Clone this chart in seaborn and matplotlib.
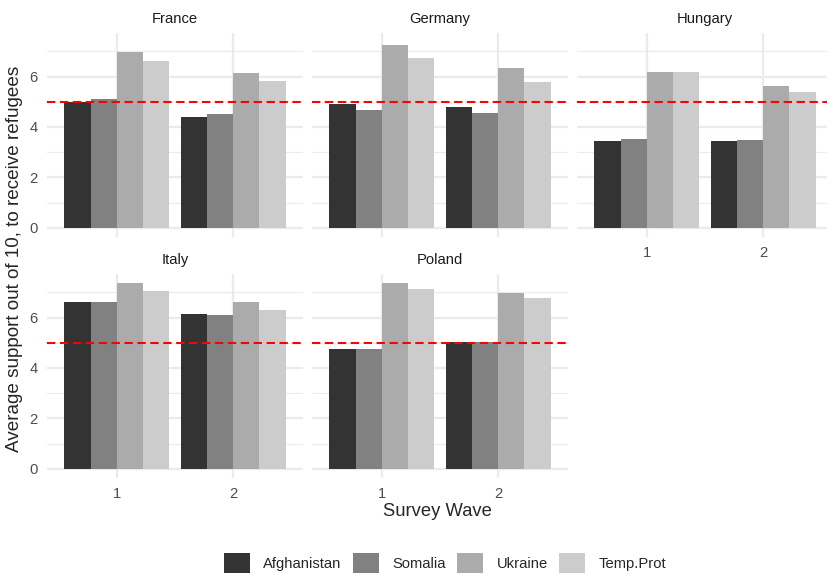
import numpy as np
import pandas as pd
import matplotlib
matplotlib.use("Agg")
import matplotlib.pyplot as plt
from matplotlib.patches import Patch
import seaborn as sns

# 数据：各国两轮调查的平均支持度（满分10）
countries = ["France", "Germany", "Hungary", "Italy", "Poland"]
origins = ["Afghanistan", "Somalia", "Ukraine", "Temp.Prot"]
waves = ["1", "2"]

france = [[4.97, 5.10, 6.99, 6.62], [4.41, 4.50, 6.15, 5.83]]
germany = [[4.91, 4.68, 7.27, 6.73], [4.78, 4.56, 6.35, 5.78]]
hungary = [[3.46, 3.51, 6.20, 6.19], [3.43, 3.47, 5.63, 5.38]]
italy = [[6.61, 6.61, 7.36, 7.05], [6.13, 6.10, 6.61, 6.30]]
poland = [[4.74, 4.74, 7.36, 7.12], [5.02, 5.02, 6.99, 6.78]]

threshold = 5
palette = ["#333333", "#818181", "#ABABAB", "#CCCCCC"]

rows = []
for c, vals in zip(countries, [france, germany, hungary, italy, poland]):
    for w, wv in zip(waves, vals):
        for o, v in zip(origins, wv):
            rows.append({"country": c, "wave": w, "origin": o, "support": v})
df = pd.DataFrame(rows)

sns.set_theme(style="white")
plt.rcParams['font.family'] = ['Liberation Sans', 'DejaVu Sans']

W, H = 828, 575
fig = plt.figure(figsize=(W / 100, H / 100), dpi=100)

# 面板像素位置 (left, top, width, height)
lefts = [47, 312, 577]
tops = [33, 274]
pw, ph = 256, 204
ymax = df["support"].max() * 1.05
ylo = -df["support"].max() * 0.05

for i, c in enumerate(countries):
    r, col = divmod(i, 3)
    l, t = lefts[col], tops[r]
    ax = fig.add_axes([l / W, 1 - (t + ph) / H, pw / W, ph / H])
    sub = df[df["country"] == c]
    sns.barplot(data=sub, x="wave", y="support", hue="origin", hue_order=origins,
                palette=palette, width=0.9, gap=0, errorbar=None, ax=ax,
                legend=False, saturation=1, linewidth=0)
    ax.axhline(threshold, color="red", lw=1.5, ls=(0, (4, 2.2)), zorder=5)
    ax.set_xlim(-0.6, 1.6)
    ax.set_ylim(ylo, ymax)
    ax.set_yticks([0, 2, 4, 6])
    ax.set_yticks([1, 3, 5, 7], minor=True)
    ax.set_axisbelow(True)
    ax.grid(which="major", color="#EBEBEB", lw=1.6)
    ax.grid(which="minor", axis="y", color="#EBEBEB", lw=0.8)
    for s in ax.spines.values():
        s.set_visible(False)
    ax.tick_params(which="both", length=0, pad=6.5, labelsize=10.6, labelcolor="#4D4D4D")
    ax.set_xlabel("")
    ax.set_ylabel("")
    ax.set_title(c, fontsize=10.6, color="#1A1A1A", pad=7.5)
    if col != 0:
        ax.set_yticklabels([])
    # x 轴标签只在每列最下面的面板显示
    if not (r == 1 or col == 2):
        ax.set_xticklabels([])

fig.text(15 / W, 1 - 259 / H, "Average support out of 10, to receive refugees",
         rotation=90, ha="center", va="center", fontsize=13.6)
fig.text(437 / W, 1 - 512 / H, "Survey Wave", ha="center", va="center", fontsize=13.2)

handles = [Patch(facecolor=p, edgecolor="none", label=o) for p, o in zip(palette, origins)]
fig.legend(handles=handles, loc="center", bbox_to_anchor=(445 / W, 1 - 563 / H), ncol=4,
           frameon=False, fontsize=10.6, handlelength=1.75, handleheight=1.75,
           handletextpad=0.9, columnspacing=0.8, borderaxespad=0)

fig.savefig("out.png", dpi=100)
